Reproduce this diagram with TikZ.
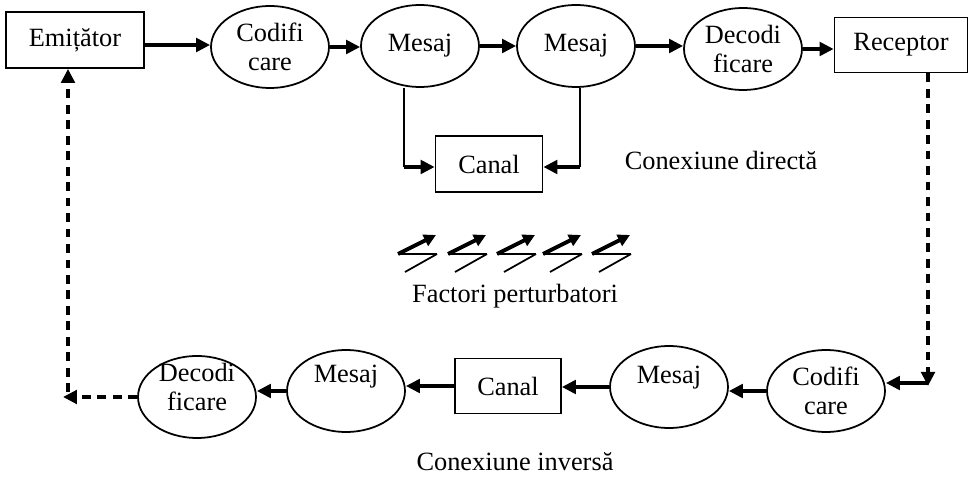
\documentclass[tikz,border=0pt]{standalone}
\usepackage{fontspec}
\setmainfont{Liberation Serif}
\usetikzlibrary{arrows.meta,shapes.geometric}
\tikzset{
box/.style={draw,line width=1pt,minimum height=1.12cm,inner sep=0pt},
oval/.style={draw,ellipse,line width=1pt,minimum width=2.36cm,minimum height=1.64cm,inner sep=0pt,align=center},
flow/.style={line width=2.3pt,-{Triangle[length=0.28cm,width=0.27cm]}},
feedback/.style={line width=2.1pt,dash pattern=on 5pt off 3.8pt,-{Triangle[length=0.28cm,width=0.27cm]}},
wire/.style={line width=1pt},
}
\newcommand{\up}[2]{\raisebox{#1}[\height][\depth]{#2}}
\begin{document}
\begin{tikzpicture}[x=0.02cm,y=-0.02cm,font=\fontsize{15}{16.5}\selectfont]
\useasboundingbox (0,0) rectangle (971,482);

\node[box,minimum width=2.76cm] (emit) at (75,40) {Emițător};
\node[oval] (codT) at (270,47) {Codifi\\care};
\node[oval] (mesA) at (420,46) {Mesaj};
\node[oval] (mesB) at (576,46) {Mesaj};
\node[oval] (decT) at (743,49) {Decodi\\ficare};
\node[box,minimum width=2.66cm,minimum height=1.1cm] (recv) at (901,45) {Receptor};
\node[box,minimum width=2.14cm] (canT) at (489,164) {Canal};
\node (direct) at (721,160) {Conexiune directă};

\node (factori) at (515,296) {Factori perturbatori};

\node[oval] (codB) at (826,391) {Codifi\\care};
\node[oval] (mesC) at (669,387) {\up{0.18cm}{Mesaj}};
\node[box,minimum width=2.12cm,minimum height=1.1cm] (canB) at (508,386) {Canal};
\node[oval] (mesD) at (346,391) {\up{0.28cm}{Mesaj}};
\node[oval] (decB) at (197,397) {\up{0.14cm}{\begin{tabular}{@{}c@{}}Decodi\\ficare\end{tabular}}};
\node (invers) at (515,462) {Conexiune inversă};

\coordinate (linkA) at (404,167);
\coordinate (linkB) at (580,167);
\coordinate (rturn) at (928,386);
\coordinate (lturn) at (68,392);
\coordinate (lend) at (63,397);

\draw[flow] ([yshift=-0.1cm]emit.east) -- ([yshift=-0.1cm]emit.east -| codT.west);
\draw[flow] (codT.east) -- (codT.east -| mesA.west);
\draw[flow] (mesA.east) -- (mesA.east -| mesB.west);
\draw[flow] (mesB.east) -- (mesB.east -| decT.west);
\draw[flow] (decT.east) -- (decT.east -| recv.west);

\draw[wire] (linkA |- mesA.south) -- (linkA);
\draw[flow] (linkA) -- (linkA -| canT.west);
\draw[wire] (linkB |- mesB.south) -- (linkB);
\draw[flow] (linkB) -- (linkB -| canT.east);

\foreach \x in {398,448,497,543,592} {
\draw[wire] (\x+7,272) -- (\x+39,254);
\draw[line width=1.5pt] (\x+39,254) -- (\x,254);
\draw[line width=2.2pt,-{Triangle[length=0.24cm,width=0.24cm]}] (\x,254) -- (\x+38,235);
}

\draw[feedback] (recv.south -| rturn) -- (rturn);
\draw[flow] ([yshift=0.06cm]rturn) -- ([yshift=0.06cm]rturn -| codB.east);
\draw[flow] (codB.west) -- (codB.west -| mesC.east);
\draw[flow] (mesC.west) -- (mesC.west -| canB.east);
\draw[flow] (canB.west) -- (canB.west -| mesD.east);
\draw[flow] (mesD.west) -- (mesD.west -| decB.east);
\draw[feedback] (decB.west) -- (decB.west -| lend);
\draw[feedback] (lturn) -- (lturn |- emit.south);
\end{tikzpicture}
\end{document}
